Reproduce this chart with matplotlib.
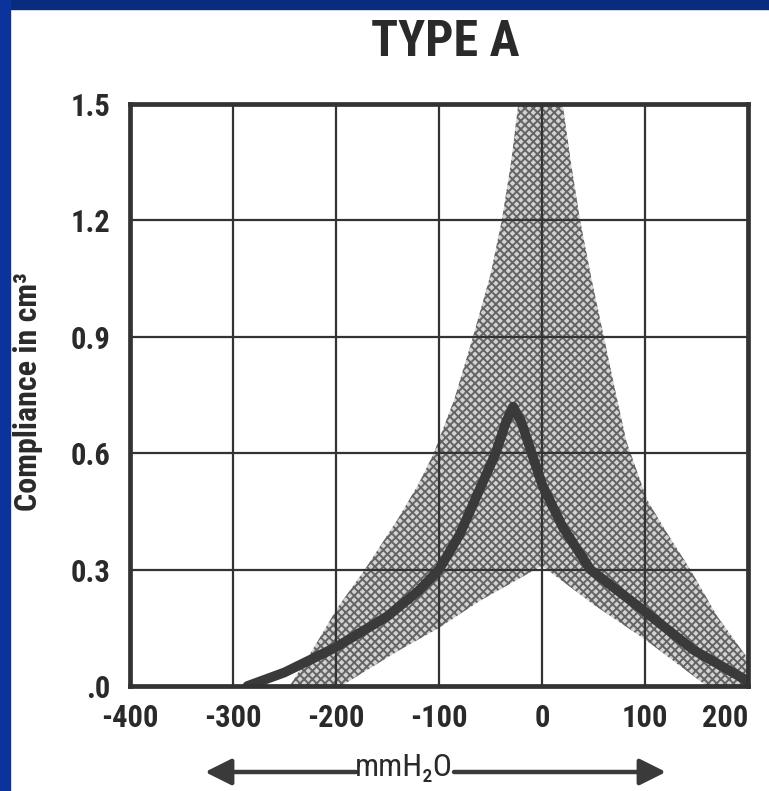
import matplotlib
matplotlib.use("Agg")
import matplotlib.pyplot as plt
from matplotlib import font_manager as fm
from matplotlib.patches import Rectangle

# Normal range band (upper edge left->right, lower edge right->left)
band_upper_x = [-245, -228, -210, -199, -172, -140, -120, -105, -85, -67, -50, -39, -30, -23,
                -12, 0, 12, 20, 28, 37, 48, 60, 72, 82, 102, 120, 144, 170, 200, 200]
band_upper_y = [0.0, 0.07, 0.15, 0.2, 0.3, 0.43, 0.52, 0.6, 0.74, 0.9, 1.06, 1.2, 1.35, 1.5,
                1.62, 1.66, 1.62, 1.5, 1.35, 1.2, 1.05, 0.9, 0.75, 0.63, 0.48, 0.4, 0.3, 0.18,
                0.07, 0.0]
band_lower_x = [160, 100, 50, 0, -60, -100, -140, -195]
band_lower_y = [0.0, 0.12, 0.21, 0.31, 0.22, 0.15, 0.09, 0.0]

# Type A tympanogram
curve_x = [-286, -250, -200, -150, -120, -100, -80, -60, -45, -35, -28, -20, -10, 0, 20, 47,
           98, 147, 195, 205]
curve_y = [0.0, 0.035, 0.10, 0.18, 0.245, 0.30, 0.39, 0.51, 0.6, 0.68, 0.72, 0.68, 0.6, 0.52,
           0.41, 0.3, 0.196, 0.093, 0.02, 0.0]

xticks = [-400, -300, -200, -100, 0, 100, 200]
xtick_labels = ['-400', '-300', '-200', '-100', '0', '100', '200']
yticks = [0, 0.3, 0.6, 0.9, 1.2, 1.5]
ytick_labels = ['.0', '0.3', '0.6', '0.9', '1.2', '1.5']

# condensed face if one is installed, else Liberation Sans a bit smaller
names = {f.name for f in fm.fontManager.ttflist}
narrow = [n for n in ['Liberation Sans Narrow', 'Roboto Condensed', 'Open Sans Condensed']
          if n in names]
if narrow:
    font = [narrow[0], 'DejaVu Sans']
    title_size, tick_size, ylab_size, unit_size = 36, 22, 23, 23
else:
    font = ['Liberation Sans', 'DejaVu Sans']
    title_size, tick_size, ylab_size, unit_size = 32, 18, 18, 20

ink = '#333333'
text_ink = '#2a2a2a'
plt.rcParams['hatch.linewidth'] = 1.4

fig = plt.figure(figsize=(7.69, 7.91), dpi=100)
fig.patch.set_facecolor('white')

# blue slide frame on top and left
fig.patches.append(Rectangle((0, 1 - 9 / 791), 1, 9 / 791, transform=fig.transFigure,
                             color='#0a2c80', zorder=0))
fig.patches.append(Rectangle((0, 0), 10 / 769, 1, transform=fig.transFigure,
                             color='#0a349c', zorder=0))

ax = fig.add_axes([130 / 769, 1 - 686 / 791, 618 / 769, 582 / 791])

ax.fill(band_upper_x + band_lower_x, band_upper_y + band_lower_y,
        facecolor='#d2d2d2', edgecolor='#646464', hatch='xxxx', linewidth=0, zorder=1)
ax.plot(curve_x, curve_y, color='#3a3a3a', linewidth=7, solid_capstyle='round',
        solid_joinstyle='round', zorder=4)

ax.set_xlim(-400, 200)
ax.set_ylim(0, 1.5)
ax.set_xticks(xticks)
ax.set_xticklabels(xtick_labels)
ax.set_yticks(yticks)
ax.set_yticklabels(ytick_labels)
ax.grid(True, color=ink, linewidth=1.6, zorder=2)
ax.set_axisbelow(False)
ax.tick_params(length=0, labelsize=tick_size, colors=text_ink)
ax.tick_params(axis='x', pad=12)
ax.tick_params(axis='y', pad=14)
for lab in ax.get_xticklabels() + ax.get_yticklabels():
    lab.set_family(font)
    lab.set_fontweight('bold')
# last x label sits inside the right edge, as in the original
ax.get_xticklabels()[-1].set_horizontalalignment('right')
for s in ax.spines.values():
    s.set_linewidth(3.4)
    s.set_color(ink)
    s.set_zorder(5)

fig.text(445 / 769, 1 - 42 / 791, 'TYPE A', ha='center', va='center', fontsize=title_size,
         fontweight='bold', family=font, color=text_ink)
fig.text(28 / 769, 1 - 392 / 791, 'Compliance in cm³', rotation=90, ha='center', va='center',
         fontsize=ylab_size, fontweight='bold', family=font, color=text_ink)
fig.text(404 / 769, 1 - 768 / 791, 'mmH₂O', ha='center', va='center', fontsize=unit_size,
         family=font, color=text_ink)

# pressure arrows under the axis label
arrow = dict(arrowstyle='-|>', lw=3.2, color='#3a3a3a', mutation_scale=40, shrinkA=0, shrinkB=0)
ax.annotate('', xy=(205, 791 - 772), xytext=(356, 791 - 772), xycoords='figure pixels',
            textcoords='figure pixels', arrowprops=arrow)
ax.annotate('', xy=(666, 791 - 772), xytext=(454, 791 - 772), xycoords='figure pixels',
            textcoords='figure pixels', arrowprops=arrow)

fig.savefig('out.png', dpi=100)
